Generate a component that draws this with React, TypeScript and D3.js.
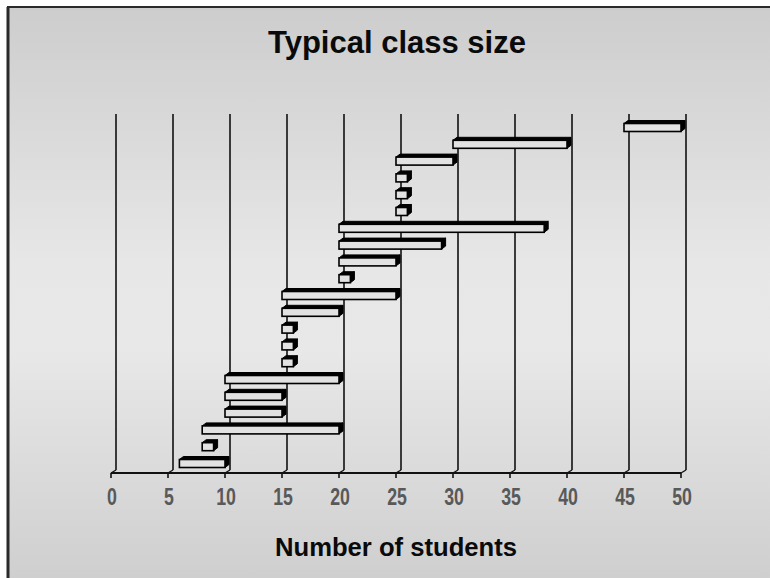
import React from 'react';
import * as d3 from 'd3';

// classes listed bottom to top, each with smallest and largest typical size
const classIds = ['c1', 'c2', 'c3', 'c4', 'c5', 'c6', 'c7', 'c8', 'c9', 'c10', 'c11',
  'c12', 'c13', 'c14', 'c15', 'c16', 'c17', 'c18', 'c19', 'c20', 'c21'];
const minSize = [6, 8, 8, 10, 10, 10, 15, 15, 15, 15, 15, 20, 20, 20, 20, 25, 25, 25, 25, 30, 45];
const maxSize = [10, 9, 20, 15, 15, 20, 16, 16, 16, 20, 25, 21, 25, 29, 38, 26, 26, 26, 30, 40, 50];
const tickValues = [0, 5, 10, 15, 20, 25, 30, 35, 40, 45, 50];

const W = 770;
const H = 578;

const App: React.FC = () => {
  const x = d3.scaleLinear().domain([0, 50]).range([111, 681]);
  const y = d3.scalePoint<string>().domain(classIds).range([463.5, 127.5]);

  const axisY = 473;
  const gridDx = 5;
  const gridTop = 114;
  const gridBottom = 470;
  const depthX = 4;
  const depthY = -3;
  const barH = 8;

  return (
    <div style={{ position: 'fixed', left: 0, top: 0 }}>
      <svg width={W} height={H} style={{ display: 'block' }}>
        <defs>
          <linearGradient id="bg" x1="0" y1="0" x2="0" y2="1">
            <stop offset="0%" stopColor="#cdcdcd" />
            <stop offset="45%" stopColor="#e7e7e7" />
            <stop offset="60%" stopColor="#e8e8e8" />
            <stop offset="100%" stopColor="#cfcfcf" />
          </linearGradient>
        </defs>
        <rect x={0} y={0} width={W} height={H} fill="#ffffff" />
        <rect x={7} y={7} width={W - 7} height={H - 7} fill="url(#bg)" />
        <line x1={7} y1={7} x2={W} y2={7} stroke="#2a2a2a" strokeWidth={2} />
        <line x1={8} y1={7} x2={8} y2={H} stroke="#2a2a2a" strokeWidth={3} />

        <text x={397} y={53} textAnchor="middle" fontFamily="'Liberation Sans', Arial, sans-serif"
          fontWeight="bold" fontSize={31} fill="#0a0a0a">Typical class size</text>

        {/* grid lines on the back wall */}
        {tickValues.map(v => (
          <line key={'g' + v} x1={x(v) + gridDx} x2={x(v) + gridDx} y1={gridTop} y2={gridBottom}
            stroke="#111" strokeWidth={1.6} />
        ))}

        {/* axis */}
        <line x1={x(0)} x2={x(50)} y1={axisY} y2={axisY} stroke="#111" strokeWidth={1.8} />
        {tickValues.map(v => (
          <g key={'t' + v}>
            <line x1={x(v)} x2={x(v)} y1={axisY} y2={axisY + 5} stroke="#111" strokeWidth={1.6} />
            <line x1={x(v)} x2={x(v) + gridDx} y1={axisY} y2={gridBottom} stroke="#111" strokeWidth={1.4} />
            <text transform={`translate(${x(v) + 1},505) scale(0.74,1)`} textAnchor="middle"
              fontFamily="'Liberation Sans', Arial, sans-serif" fontWeight="bold" fontSize={24}
              fill="#595959">{v}</text>
          </g>
        ))}

        {/* range bars with a little depth */}
        {classIds.map((id, i) => {
          const x0 = x(minSize[i]);
          const x1 = x(maxSize[i]);
          const cy = y(id) as number;
          const top = cy - barH / 2;
          const bottom = cy + barH / 2;
          const topFace = [[x0, top], [x0 + depthX, top + depthY], [x1 + depthX, top + depthY], [x1, top]];
          const sideFace = [[x1, top], [x1 + depthX, top + depthY], [x1 + depthX, bottom + depthY], [x1, bottom]];
          return (
            <g key={id}>
              <polygon points={topFace.map(p => p.join(',')).join(' ')} fill="#000" stroke="#000" strokeWidth={1} />
              <polygon points={sideFace.map(p => p.join(',')).join(' ')} fill="#000" stroke="#000" strokeWidth={1} />
              <rect x={x0} y={top} width={x1 - x0} height={barH} fill="#e2e2e2" stroke="#000" strokeWidth={1.6} />
            </g>
          );
        })}

        <text x={396} y={556} textAnchor="middle" fontFamily="'Liberation Sans', Arial, sans-serif"
          fontWeight="bold" fontSize={26} fill="#0a0a0a" textLength={242}
          lengthAdjust="spacingAndGlyphs">Number of students</text>
      </svg>
    </div>
  );
};

export default App;
